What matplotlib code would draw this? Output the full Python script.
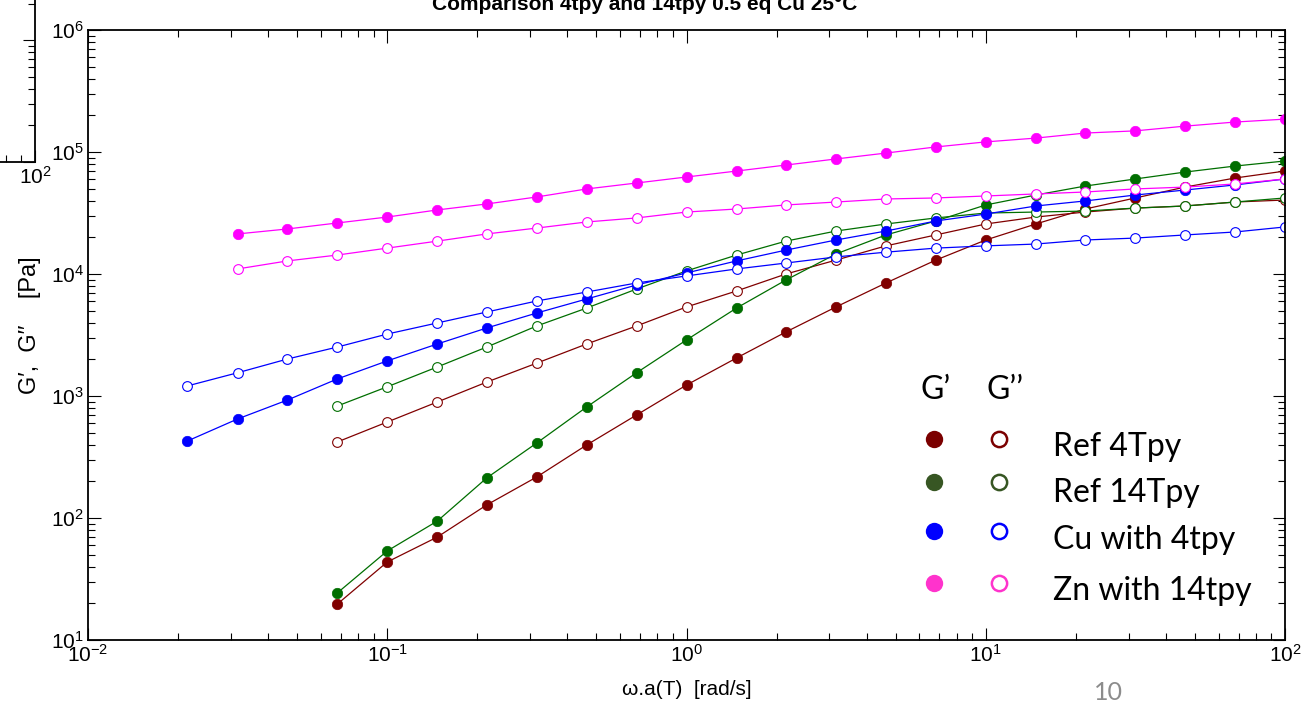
import matplotlib.pyplot as plt
from matplotlib.lines import Line2D
from matplotlib.ticker import FixedLocator
import numpy as np

# ── Data: angular frequency sweep (shifted) and moduli in Pa ─────────────────
freq = [0.0215, 0.0316, 0.0464, 0.0681, 0.1, 0.147, 0.215, 0.316, 0.464,
        0.681, 1.0, 1.47, 2.15, 3.16, 4.64, 6.81, 10.0, 14.7, 21.5, 31.6,
        46.4, 68.1, 100.0]

# Ref 4Tpy and Ref 14Tpy start at 0.0681 rad/s
ref4_gp  = [19.7, 43.6, 69.8, 128, 217, 397, 699, 1230, 2050, 3350, 5370,
            8440, 13000, 19000, 25700, 34100, 42000, 51600, 61200, 69800]
ref4_gpp = [420, 612, 893, 1300, 1860, 2670, 3750, 5370, 7260, 10000, 13000,
            17000, 20900, 25700, 29300, 32200, 34700, 36100, 38900, 40400]
ref14_gp  = [24.3, 53.7, 94.4, 213, 412, 813, 1550, 2880, 5260, 8930, 14600,
             20900, 27200, 36800, 44400, 52600, 60100, 68500, 76700, 84400]
ref14_gpp = [828, 1190, 1730, 2520, 3750, 5260, 7530, 10600, 14300, 18600,
             22500, 25700, 28800, 31600, 32200, 32800, 34700, 36100, 38900, 42000]

# Cu with 4tpy starts at 0.0215 rad/s
cu_gp  = [428, 648, 927, 1380, 1940, 2670, 3610, 4790, 6240, 8130, 10200,
          12800, 15700, 19000, 22500, 27200, 31000, 36100, 39700, 44400,
          48800, 53700, 60100]
cu_gpp = [1210, 1550, 2010, 2520, 3220, 3970, 4880, 6010, 7120, 8440, 9640,
          11000, 12300, 13800, 15100, 16300, 17000, 17600, 19000, 19700,
          20900, 22100, 24300]

# Zn with 14tpy starts at 0.0316 rad/s
zn_gp  = [21300, 23400, 26200, 29300, 33500, 37500, 42800, 49800, 55700,
          62400, 69800, 78200, 87700, 98000, 110000, 121000, 130000, 143000,
          149000, 163000, 176000, 186000]
zn_gpp = [11000, 12800, 14300, 16300, 18600, 21300, 23800, 26700, 28800,
          32200, 34100, 36800, 38900, 41200, 42000, 43600, 45300, 47000,
          49800, 51600, 54700, 60100]

legend_labels = ['Ref 4Tpy', 'Ref 14Tpy', 'Cu with 4tpy', 'Zn with 14tpy']
legend_colors = ['#7b0000', '#375623', '#0000ff', '#ff33cc']

# ── Style & Layout ────────────────────────────────────────────────────────────
plt.rcParams['font.family'] = ['Liberation Sans', 'DejaVu Sans']
plt.rcParams['mathtext.default'] = 'regular'

W, H = 1307, 714
fig = plt.figure(figsize=(W / 100, H / 100), dpi=100)
fig.patch.set_facecolor('white')

def px(x, y):
    """pixel position (from top-left) -> figure fraction"""
    return x / W, 1 - y / H

def style_log_axes(a):
    a.set_xscale('log')
    a.set_yscale('log')
    a.set_xlim(1e-2, 1e2)
    a.set_ylim(1e1, 1e6)
    a.tick_params(which='both', direction='in', top=True, right=True,
                  width=0.8, labelsize=15, pad=3)
    a.tick_params(which='major', length=9)
    a.tick_params(which='minor', length=5)
    for s in a.spines.values():
        s.set_linewidth(1.3)

# corner of a neighbouring plot peeking in at the top-left
ax0 = fig.add_axes([-1162 / W, 1 - 162 / H, 1197 / W, 608 / H])
style_log_axes(ax0)
ax0.patch.set_alpha(0)
ax0.xaxis.set_major_locator(FixedLocator([1e2]))
ax0.tick_params(labelleft=False)

# ── Main axes ─────────────────────────────────────────────────────────────────
ax = fig.add_axes([88 / W, 1 - 640 / H, 1197 / W, 610 / H])
style_log_axes(ax)

series = [
    (freq[3:], ref4_gp,  ref4_gpp,  '#800000'),
    (freq[3:], ref14_gp, ref14_gpp, '#006e00'),
    (freq,     cu_gp,    cu_gpp,    '#0000ff'),
    (freq[1:], zn_gp,    zn_gpp,    '#ff00ff'),
]
for f, gp, gpp, c in series:
    ax.plot(f, gp, '-o', color=c, lw=0.9, ms=7.5, mec=c, mfc=c, mew=0.5)
    ax.plot(f, gpp, '-o', color=c, lw=0.9, ms=7, mec=c, mfc='white', mew=0.8)

ax.set_xlabel('ω.a(T)  [rad/s]', fontsize=15)
ax.xaxis.set_label_coords(0.5, -0.065)
ax.set_ylabel('G′,  G′′    [Pa]', fontsize=17)
ax.yaxis.set_label_coords(-0.039, 0.516)

fig.text(*px(645, 10), 'Comparison 4tpy and 14tpy 0.5 eq Cu 25°C',
         ha='center', va='baseline', fontsize=15, fontweight='bold')

# ── Hand-made legend ──────────────────────────────────────────────────────────
fig.text(*px(921, 390), 'G’', fontsize=23, family='Lato', va='center')
fig.text(*px(986, 390), 'G’’', fontsize=23, family='Lato', va='center')
row_y = [439, 482, 531, 583]
text_y = [447, 493, 540, 591]
for lab, c, ry, ty in zip(legend_labels, legend_colors, row_y, text_y):
    fx, fy = px(934, ry)
    fig.add_artist(Line2D([fx], [fy], marker='o', ms=12.5, mfc=c, mec=c,
                          mew=0, transform=fig.transFigure))
    ox, oy = px(999, ry)
    fig.add_artist(Line2D([ox], [oy], marker='o', ms=11, mfc='white', mec=c,
                          mew=1.8, transform=fig.transFigure))
    fig.text(*px(1053, ty), lab, fontsize=23, family='Lato', va='center')

# slide number
fig.text(*px(1108, 692), '10', fontsize=18, family='Lato', color='#8c8c8c',
         ha='center', va='center')

plt.savefig('out.png', dpi=100, facecolor='white')
